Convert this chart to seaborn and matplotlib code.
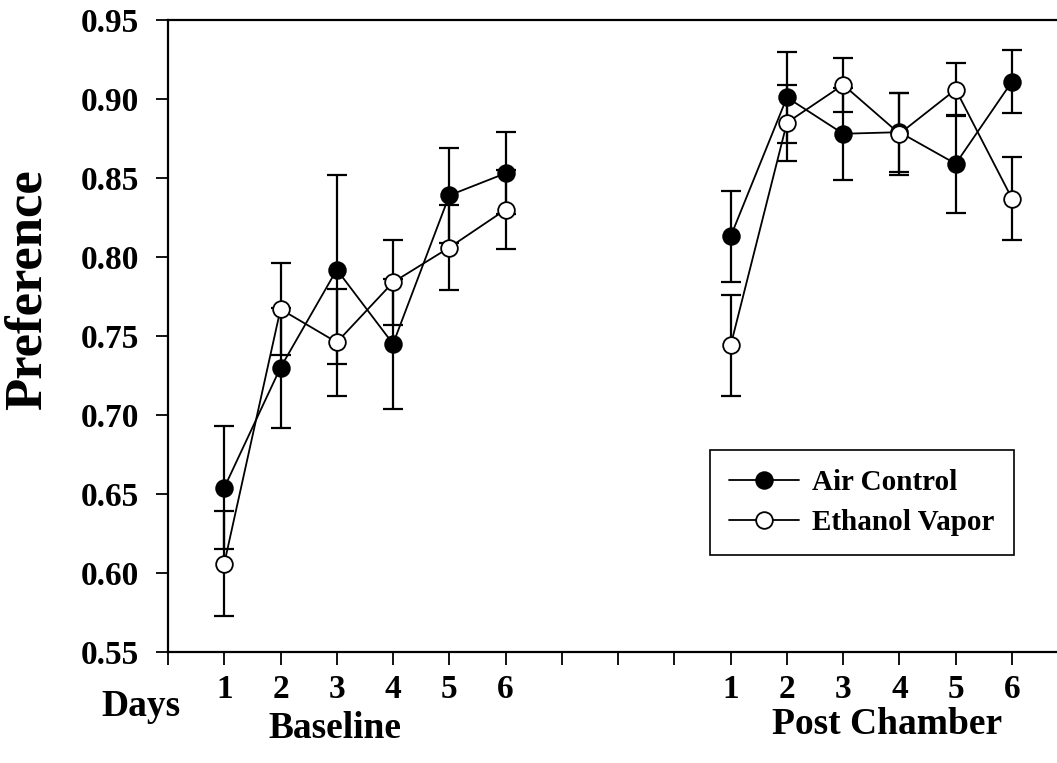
import numpy as np
import pandas as pd
import matplotlib
matplotlib.use("Agg")
import matplotlib.pyplot as plt
import seaborn as sns

# posiciones en el eje (baseline 1-6, post chamber 10-15)
baseline_pos = [1, 2, 3, 4, 5, 6]
post_pos = [10, 11, 12, 13, 14, 15]
day_labels = ["1", "2", "3", "4", "5", "6"]

# Air Control
air_base = [0.654, 0.730, 0.792, 0.745, 0.839, 0.853]
air_base_err = [0.039, 0.038, 0.060, 0.041, 0.030, 0.026]
air_post = [0.813, 0.901, 0.878, 0.879, 0.859, 0.911]
air_post_err = [0.029, 0.029, 0.029, 0.025, 0.031, 0.020]

# Ethanol Vapor
eth_base = [0.606, 0.767, 0.746, 0.784, 0.806, 0.830]
eth_base_err = [0.033, 0.029, 0.034, 0.027, 0.027, 0.025]
eth_post = [0.744, 0.885, 0.909, 0.878, 0.906, 0.837]
eth_post_err = [0.032, 0.024, 0.017, 0.026, 0.017, 0.026]

sns.set_theme(style="ticks")
plt.rcParams['font.family'] = ['Liberation Serif', 'DejaVu Serif']
plt.rcParams['font.weight'] = 'bold'
for k in ['text.color', 'axes.labelcolor', 'xtick.color', 'ytick.color', 'axes.edgecolor']:
    plt.rcParams[k] = 'black'

rows = []
for grupo, base, be, post, pe in [("Air Control", air_base, air_base_err, air_post, air_post_err),
                                  ("Ethanol Vapor", eth_base, eth_base_err, eth_post, eth_post_err)]:
    for p, v, e in zip(baseline_pos, base, be):
        rows.append({"pos": p, "pref": v, "err": e, "grupo": grupo, "fase": "Baseline"})
    for p, v, e in zip(post_pos, post, pe):
        rows.append({"pos": p, "pref": v, "err": e, "grupo": grupo, "fase": "Post"})
df = pd.DataFrame(rows)

fig = plt.figure(figsize=(10.57, 7.63), dpi=100)
ax = fig.add_axes([168 / 1057, 1 - 652 / 763, 1 - 168 / 1057, (652 - 20) / 763])

caras = {"Air Control": "black", "Ethanol Vapor": "white"}
handles = {}
for grupo in ["Air Control", "Ethanol Vapor"]:
    sub = df[df.grupo == grupo]
    ax.errorbar(sub.pos, sub.pref, yerr=sub.err, fmt='none', ecolor='black',
                elinewidth=1.6, capsize=7, capthick=1.6, zorder=2)
    for fase in ["Baseline", "Post"]:
        s = sub[sub.fase == fase]
        sns.lineplot(data=s, x="pos", y="pref", ax=ax, color="black", lw=1.3,
                     marker="o", markersize=12, markerfacecolor=caras[grupo],
                     markeredgecolor="black", markeredgewidth=1.3,
                     estimator=None, sort=False, zorder=3)
    handles[grupo] = ax.lines[-1]

ax.set_xlim(0, 15.8)
ax.set_ylim(0.55, 0.95)
ax.set_xticks(range(0, 16))
ax.set_xticklabels([""] + day_labels + ["", "", ""] + day_labels)
ax.set_yticks(np.arange(0.55, 0.951, 0.05))
ax.set_yticklabels([f"{v:.2f}" for v in np.arange(0.55, 0.951, 0.05)])
ax.tick_params(axis='both', direction='out', length=9, width=1.3, colors='black',
               labelsize=24)
ax.tick_params(axis='x', pad=7)
ax.tick_params(axis='y', pad=12)
for lab in ax.get_xticklabels() + ax.get_yticklabels():
    lab.set_fontweight('bold')
for lado in ["left", "bottom", "top"]:
    ax.spines[lado].set_linewidth(1.6)
ax.spines["right"].set_visible(False)
ax.set_xlabel("")
ax.set_ylabel("")

fig.text(28 / 1057, 1 - 290 / 763, "Preference", fontsize=38, fontweight='bold',
         rotation=90, ha='center', va='center')
fig.text(141 / 1057, 1 - 706 / 763, "Days", fontsize=27, fontweight='bold', ha='center', va='center')
fig.text(335 / 1057, 1 - 728 / 763, "Baseline", fontsize=27, fontweight='bold', ha='center', va='center')
fig.text(887 / 1057, 1 - 725 / 763, "Post Chamber", fontsize=27, fontweight='bold', ha='center', va='center')

leg = ax.legend([handles["Air Control"], handles["Ethanol Vapor"]], ["Air Control", "Ethanol Vapor"],
                loc='upper left', bbox_to_anchor=(0.61, 0.32), borderaxespad=0,
                fancybox=False, framealpha=1, edgecolor='black',
                handlelength=2.4, handletextpad=0.45, borderpad=0.65, labelspacing=0.45,
                prop={'weight': 'bold', 'size': 21})
leg.get_frame().set_linewidth(1.2)

fig.savefig("out.png", dpi=100)
